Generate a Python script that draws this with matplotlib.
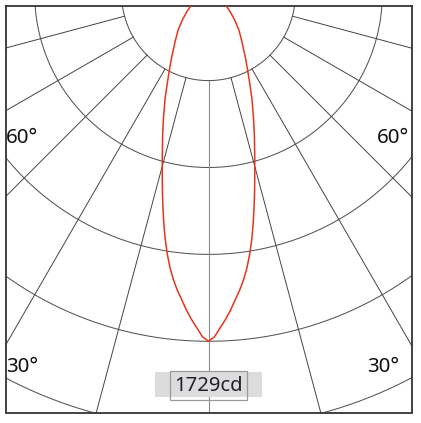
import numpy as np
import matplotlib
matplotlib.use("Agg")
import matplotlib.pyplot as plt
from matplotlib.patches import Rectangle

# luminous intensity distribution (cd)
angles_deg = [0, 1, 2, 3, 4, 5, 6, 7, 8, 9, 10, 11, 12, 13, 14, 15, 16, 18, 20,
              22.5, 25, 27.5, 30, 35, 40, 45, 50, 55, 60, 70, 80, 90]
intensity_cd = [1729, 1707, 1663, 1622, 1577, 1528, 1483, 1433, 1376, 1311, 1240,
                1165, 1089, 1018, 951, 889, 834, 738, 654,
                564, 482, 418, 367, 289, 235, 183, 142, 109, 80, 35, 12, 0]
I_MAX = 1729
N_RINGS_MAX = 4  # max intensity sits on the 4th ring

ring_radii = [1, 2, 3, 4, 5, 6]
spoke_angles = [-75, -60, -45, -30, -15, 15, 30, 45, 60, 75]
angle_labels = ["60°", "30°"]
peak_label = f"{I_MAX}cd"

# layout in pixels (421x423 image)
W, H = 421, 423
PX = 86.9               # pixels per ring
OX, OY = 208.5, -6.3    # polar origin
FL, FR, FT, FB = 5.5, 411.5, 6.5, 412.5  # frame

fig = plt.figure(figsize=(W / 100, H / 100), dpi=100)
ax = fig.add_axes([FL / W, 1 - FB / H, (FR - FL) / W, (FB - FT) / H])
ax.set_xlim((FL - OX) / PX, (FR - OX) / PX)
ax.set_ylim(-(FB - OY) / PX, -(FT - OY) / PX)
ax.set_xticks([])
ax.set_yticks([])
for s in ax.spines.values():
    s.set_color("#333333")
    s.set_linewidth(1.3)

# rings
t = np.linspace(0, 2 * np.pi, 721)
for r in ring_radii:
    ax.plot(r * np.sin(t), r * np.cos(t), color="#555555", lw=0.75, zorder=1)

# spokes start on the first ring
for a in spoke_angles:
    th = np.radians(a)
    ax.plot([np.sin(th), 8 * np.sin(th)], [-np.cos(th), -8 * np.cos(th)],
            color="#444444", lw=0.7, zorder=1)
ax.plot([0, 0], [-1, -8], color="#8a8a8a", lw=0.8, zorder=1)

# intensity curve, mirrored around the vertical axis
ang = np.radians(np.array(angles_deg))
r_curve = np.array(intensity_cd) / I_MAX * N_RINGS_MAX
full_ang = np.concatenate([-ang[::-1], ang[1:]])
full_r = np.concatenate([r_curve[::-1], r_curve[1:]])
ax.plot(full_r * np.sin(full_ang), -full_r * np.cos(full_ang),
        color="#e8341c", lw=1.1, zorder=3, solid_joinstyle="round")

# peak label: gray band + outlined box
band = Rectangle(((155 - OX) / PX, -(396.7 - OY) / PX), 106.7 / PX, 25 / PX,
                 facecolor="#dcdcdc", edgecolor="none", zorder=4)
box = Rectangle(((170 - OX) / PX, -(400 - OY) / PX), 77.3 / PX, 29.3 / PX,
                facecolor="none", edgecolor="#9a9a9a", lw=0.9, zorder=5)
ax.add_patch(band)
ax.add_patch(box)
ax.text(0.5 / PX, -(390.7 - OY) / PX, peak_label, ha="center", va="baseline",
        fontsize=14.6, family="Noto Sans", color="#20202c", zorder=6)

# angle labels
font = dict(fontsize=14.8, family="Noto Sans", color="#111111")
fig.text(6.0 / W, 1 - 142.7 / H, angle_labels[0], ha="left", va="baseline", **font)
fig.text(409.0 / W, 1 - 142.7 / H, angle_labels[0], ha="right", va="baseline", **font)
fig.text(6.0 / W, 1 - 371.7 / H, angle_labels[1], ha="left", va="baseline", **font)
fig.text(399.0 / W, 1 - 371.7 / H, angle_labels[1], ha="right", va="baseline", **font)

fig.savefig("out.png", dpi=100, facecolor="white")
